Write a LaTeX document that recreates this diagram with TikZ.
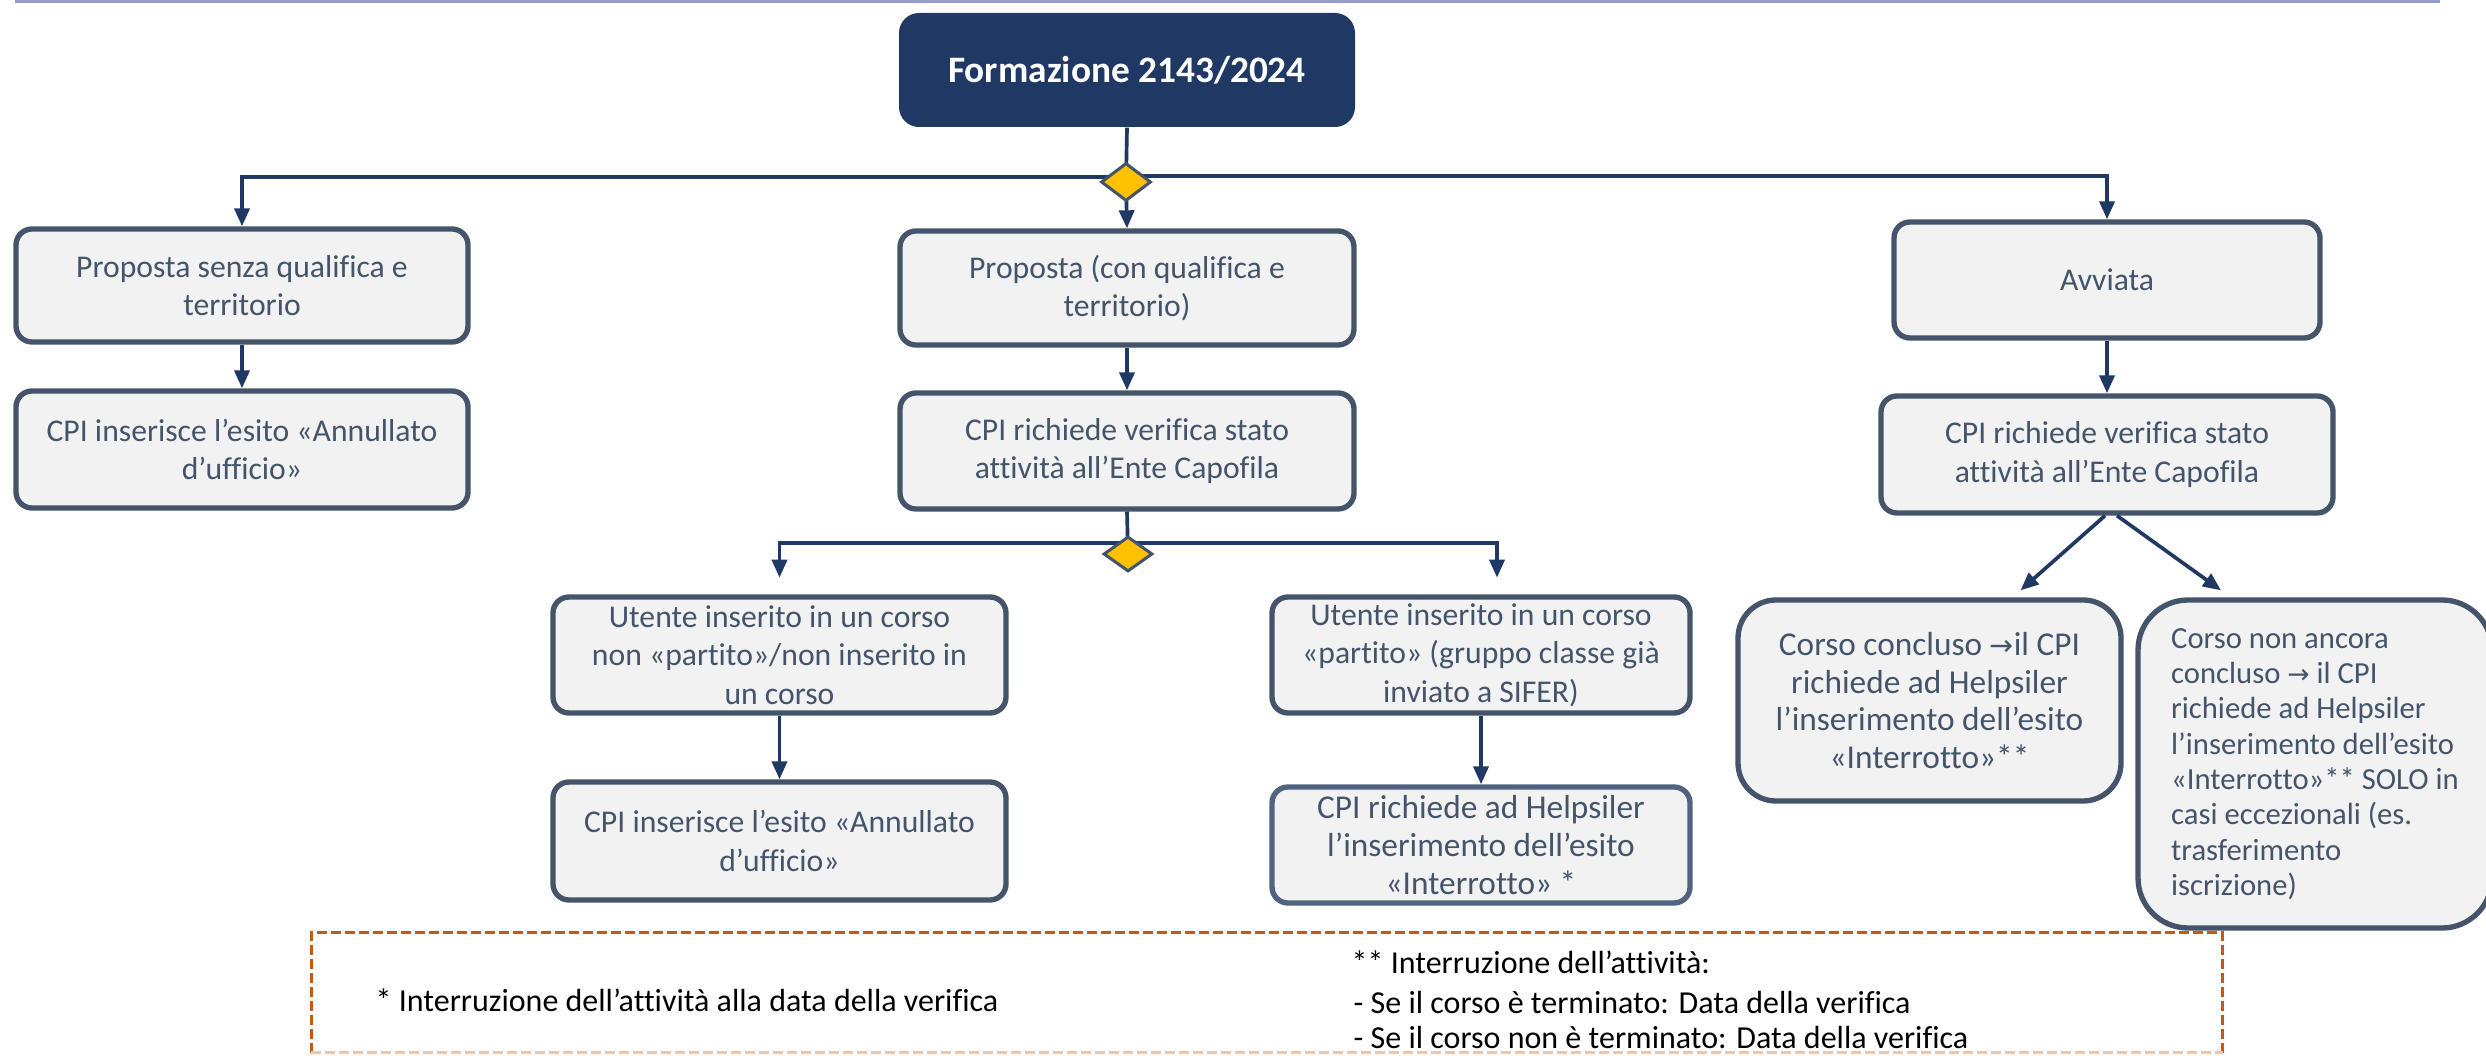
\documentclass[tikz,border=0pt]{standalone}
\usepackage{fontspec}
\setmainfont{Carlito}[Ligatures=NoCommon]
\newfontfamily\symfont{DejaVu Sans}
\usetikzlibrary{arrows.meta,shapes.geometric,calc}
\definecolor{navy}{HTML}{203864}
\definecolor{slate}{HTML}{44546A}
\definecolor{slateB}{HTML}{506482}
\definecolor{boxfill}{HTML}{F2F2F2}
\definecolor{gold}{HTML}{FFC000}
\definecolor{rust}{HTML}{C55A11}
\definecolor{rustlight}{HTML}{EBC7AE}
\definecolor{lav}{HTML}{9A9AD2}
\tikzset{
  box/.style={draw=slate, line width=1.6pt, fill=boxfill, rounded corners=4.8pt,
    text=slate, align=center, inner sep=0pt, font=\fontsize{9.5}{11.5}\selectfont},
  titlebox/.style={fill=navy, rounded corners=6pt, text=white, inner sep=0pt,
    font=\fontsize{11.2}{13}\selectfont\bfseries},
  dec/.style={diamond, draw=slate, fill=gold, line width=0.9pt, inner sep=0pt,
    minimum width=15pt, minimum height=11.4pt},
  conn/.style={draw=navy, line width=1.1pt},
  arr/.style={conn, -{Triangle[length=5.4pt,width=4.5pt]}},
  foottext/.style={inner sep=0pt, anchor=west, font=\fontsize{9.6}{11}\selectfont},
}
\begin{document}
\begin{tikzpicture}[x=0.3pt,y=-0.3pt]
\useasboundingbox (0,0) rectangle (2486,1062);
\clip (0,0) rectangle (2486,1062);
\fill[white] (0,0) rectangle (2486,1062);
\draw[lav, line width=0.8pt] (15,1.5) -- (2440,1.5);

% title
\node[titlebox, minimum width=136.8pt, minimum height=34.2pt] (title) at (1127,70) {Formazione 2143/2024};

% level 1
\node[box, minimum width=135.6pt, minimum height=33.9pt] (A1) at (242,285.5) {Proposta senza qualifica e\\territorio};
\node[box, minimum width=136.2pt, minimum height=34.2pt] (B1) at (1127,288) {Proposta (con qualifica e\\territorio)};
\node[box, minimum width=127.8pt, minimum height=34.8pt] (C1) at (2107,280) {Avviata};

% level 2
\node[box, minimum width=135.6pt, minimum height=35.1pt] (A2) at (242,449.5) {CPI inserisce l’esito «Annullato\\d’ufficio»};
\node[box, minimum width=136.2pt, minimum height=34.8pt] (B2) at (1127,451) {CPI richiede verifica stato\\attività all’Ente Capofila};
\node[box, minimum width=135.6pt, minimum height=35.1pt] (C2) at (2107,454.5) {CPI richiede verifica stato\\attività all’Ente Capofila};

% level 3
\node[box, minimum width=135.9pt, minimum height=34.8pt] (B3) at (779.5,655) {Utente inserito in un corso\\non «partito»/non inserito in\\un corso};
\node[box, minimum width=125.4pt, minimum height=34.8pt] (B5) at (1481,655) {Utente inserito in un corso\\«partito» (gruppo classe già\\inviato a SIFER)};
\node[box, rounded corners=11.4pt, minimum width=114.9pt, minimum height=60.3pt,
  font=\fontsize{10}{11.3}\selectfont] (C3) at (1929.5,700.5) {Corso concluso {\symfont\fontsize{8.6}{11.3}\selectfont →}il CPI\\richiede ad Helpsiler\\l’inserimento dell’esito\\«Interrotto»**};
\node[box, rounded corners=15pt, align=left, minimum width=106.2pt, minimum height=98.4pt,
  font=\fontsize{9.2}{10.6}\selectfont] (C4) at (2315,764) {Corso non ancora\\concluso {\symfont\fontsize{8}{10.6}\selectfont →} il CPI\\richiede ad Helpsiler\\l’inserimento dell’esito\\«Interrotto»** SOLO in\\casi eccezionali (es.\\trasferimento\\iscrizione)};

% level 4
\node[box, minimum width=135.9pt, minimum height=35.4pt] (B4) at (779.5,841) {CPI inserisce l’esito «Annullato\\d’ufficio»};
\node[box, draw=slateB, minimum width=125.4pt, minimum height=34.8pt,
  font=\fontsize{10}{11.3}\selectfont] (B6) at (1481,845) {CPI richiede ad Helpsiler\\l’inserimento dell’esito\\«Interrotto» *};

% decision points
\coordinate (d1c) at (1126,182);
\coordinate (d2c) at (1128,554);

% connectors
\draw[conn] (title.south) -- (d1c);
\draw[arr] ([yshift=1.5pt]d1c) -| (A1.north);
\draw[arr] ([yshift=1.8pt]d1c) -| (C1.north);
\draw[arr] (d1c) -- (B1.north);
\draw[arr] (A1.south) -- (A2.north);
\draw[arr] (B1.south) -- (B2.north);
\draw[arr] (C1.south) -- (C2.north);
\draw[conn] (B2.south) -- (d2c);
\draw[arr, shorten >=5pt] ([yshift=3.3pt]d2c) -| (B3.north);
\draw[arr, shorten >=5pt] ([yshift=3.3pt]d2c) -| ([xshift=4.8pt]B5.north);
\draw[arr] (B3.south) -- (B4.north);
\draw[arr] (B5.south) -- (B6.north);
\draw[arr] ([xshift=-0.6pt]C2.south) -- ($(C3.north)+(91,-7)$);
\draw[arr] ([xshift=3pt]C2.south) -- ($(C4.north)+(-94,-7)$);

\node[dec] (d1) at (d1c) {};
\node[dec, minimum height=10.5pt, minimum width=14.7pt] (d2) at (d2c) {};

% footer
\node[minimum width=573pt, minimum height=35.7pt, inner sep=0pt] (foot) at (1267,992.5) {};
\draw[rust, line width=1pt, dash pattern=on 3pt off 1.2pt] (foot.south west) -- (foot.north west) -- (foot.north east) -- (foot.south east);
\draw[rustlight, line width=0.8pt, dash pattern=on 3pt off 1.2pt] (foot.south west) -- (foot.south east);
\node[foottext] (f1) at (375,1000) {* Interruzione dell’attività alla data della verifica};
\node[foottext] (f2) at (1351,962) {** Interruzione dell’attività:};
\node[foottext] (f3) at (1353,1003) {- Se il corso è terminato: Data della verifica};
\node[foottext] (f4) at (1353,1038) {- Se il corso non è terminato: Data della verifica};
\end{tikzpicture}
\end{document}
